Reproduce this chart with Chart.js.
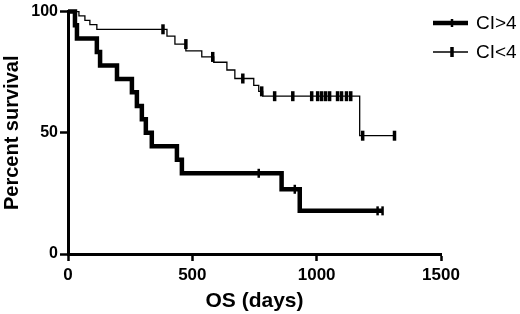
<!DOCTYPE html>
<html><head><meta charset="utf-8">
<style>html,body{margin:0;padding:0;background:#fff}#wrap{width:520px;height:314px;position:relative}</style>
<script src="https://cdn.jsdelivr.net/npm/chart.js@4/dist/chart.umd.min.js"></script>
</head><body><div id="wrap"><canvas id="c" width="520" height="314" style="width:520px;height:314px"></canvas></div>
<script>
const seriesNames = ['CI>4', 'CI<4'];
// CI>4 (thick) Kaplan-Meier curve
const hiDays = [0, 28, 36, 116, 129, 197, 257, 277, 297, 313, 337, 438, 458, 859, 932, 1265];
const hiSurv = [100, 94.4, 88.9, 83.3, 77.8, 72.2, 66.7, 61.1, 55.6, 50.0, 44.4, 38.9, 33.3, 26.7, 17.8, 17.8];
const hiCensDays = [767, 912, 1245, 1265];
const hiCensSurv = [33.3, 26.7, 17.8, 17.8];
// CI<4 (thin) Kaplan-Meier curve
const loDays = [0, 44, 68, 88, 116, 398, 430, 474, 538, 586, 639, 671, 747, 767, 783, 1173, 1313];
const loSurv = [100, 98.2, 96.4, 94.6, 92.7, 89.9, 86.6, 83.8, 81.3, 79.1, 75.9, 72.4, 69.6, 67.1, 65.1, 48.8, 48.8];
const loCensDays = [382, 474, 582, 703, 779, 831, 904, 980, 1004, 1020, 1036, 1052, 1084, 1100, 1120, 1137, 1185, 1313];
const loCensSurv = [92.7, 86.6, 81.3, 72.4, 67.1, 65.1, 65.1, 65.1, 65.1, 65.1, 65.1, 65.1, 65.1, 65.1, 65.1, 65.1, 48.8, 48.8];
const xTicks = [0, 500, 1000, 1500];
const yTicks = [0, 50, 100];
const xTitle = 'OS (days)';
const yTitle = 'Percent survival';

const pts = (xs, ys) => xs.map((x, i) => ({x: x, y: ys[i]}));
const FONT = "'Liberation Sans', Arial, Helvetica, sans-serif";

const legendPlugin = {
  id: 'kmLegend',
  afterDraw(chart) {
    const ctx = chart.ctx;
    ctx.save();
    const items = [
      {label: seriesNames[0], y: 23, lw: 4.5, tw: 2.5, th: 4},
      {label: seriesNames[1], y: 52, lw: 1.3, tw: 3.5, th: 5}
    ];
    items.forEach(it => {
      ctx.strokeStyle = '#000';
      ctx.lineWidth = it.lw;
      ctx.beginPath(); ctx.moveTo(433, it.y); ctx.lineTo(468, it.y); ctx.stroke();
      ctx.lineWidth = it.tw;
      ctx.beginPath(); ctx.moveTo(452, it.y - it.th); ctx.lineTo(452, it.y + it.th); ctx.stroke();
      ctx.fillStyle = '#000';
      ctx.font = '19px ' + FONT;
      ctx.textBaseline = 'middle';
      ctx.textAlign = 'left';
      ctx.fillText(it.label, 476, it.y + 1);
    });
    ctx.restore();
  }
};

new Chart(document.getElementById('c'), {
  type: 'line',
  data: {
    datasets: [
      {label: seriesNames[0], data: pts(hiDays, hiSurv), borderColor: '#000', borderWidth: 4.5, stepped: true, pointRadius: 0, fill: false, clip: false, order: 2},
      {label: seriesNames[1], data: pts(loDays, loSurv), borderColor: '#000', borderWidth: 1.3, stepped: true, pointRadius: 0, fill: false, clip: false, order: 2},
      {label: seriesNames[0] + ' censored', data: pts(hiCensDays, hiCensSurv), showLine: false, pointStyle: 'line', rotation: 90, pointRadius: 4.5, borderColor: '#000', pointBorderWidth: 2.5, pointBorderColor: '#000', clip: false, order: 1},
      {label: seriesNames[1] + ' censored', data: pts(loCensDays, loCensSurv), showLine: false, pointStyle: 'line', rotation: 90, pointRadius: 5, borderColor: '#000', pointBorderWidth: 3.5, pointBorderColor: '#000', clip: false, order: 1}
    ]
  },
  options: {
    responsive: false,
    animation: false,
    events: [],
    layout: {padding: {top: 7, right: 79, left: 0, bottom: 0}},
    plugins: {legend: {display: false}, tooltip: {enabled: false}},
    scales: {
      x: {
        type: 'linear', min: 0, max: 1500,
        afterBuildTicks: s => { s.ticks = xTicks.map(v => ({value: v})); },
        afterFit: s => { s.height = 60; },
        border: {display: true, width: 3, color: '#000'},
        grid: {display: true, drawOnChartArea: false, drawTicks: true, tickLength: 7, tickWidth: 2.5, tickColor: '#000'},
        ticks: {color: '#000', font: {family: FONT, size: 17, weight: 'bold'}, padding: 4, maxRotation: 0, callback: v => String(v)},
        title: {display: true, text: xTitle, color: '#000', font: {family: FONT, size: 21, weight: 'bold'}, padding: {top: 0, bottom: 0}}
      },
      y: {
        type: 'linear', min: 0, max: 100,
        afterBuildTicks: s => { s.ticks = yTicks.map(v => ({value: v})); },
        afterFit: s => { s.width = 68; },
        border: {display: true, width: 3, color: '#000'},
        grid: {display: true, drawOnChartArea: false, drawTicks: true, tickLength: 8, tickWidth: 2.5, tickColor: '#000'},
        ticks: {color: '#000', font: {family: FONT, size: 16, weight: 'bold'}, padding: 2, callback: v => String(v)},
        title: {display: true, text: yTitle, color: '#000', font: {family: FONT, size: 20, weight: 'bold'}, padding: {top: 0, bottom: 0}}
      }
    }
  },
  plugins: [legendPlugin]
});
</script>
</body></html>
